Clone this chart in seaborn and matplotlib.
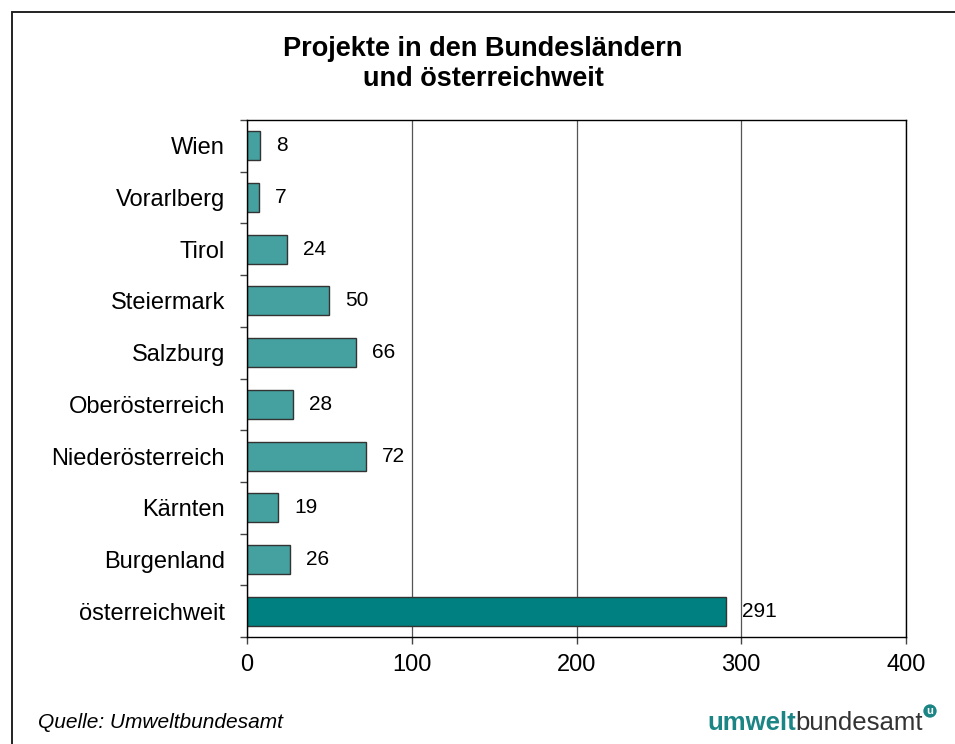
import numpy as np
import pandas as pd
import matplotlib
matplotlib.use("Agg")
import matplotlib.pyplot as plt
import seaborn as sns
from matplotlib.patches import Rectangle

# Daten (von oben nach unten)
regionen = ["Wien", "Vorarlberg", "Tirol", "Steiermark", "Salzburg",
            "Oberösterreich", "Niederösterreich", "Kärnten", "Burgenland",
            "österreichweit"]
projekte = [8, 7, 24, 50, 66, 28, 72, 19, 26, 291]
x_ticks = [0, 100, 200, 300, 400]

df = pd.DataFrame({"Region": regionen, "Projekte": projekte})
farben = ["#44a19f"] * 9 + ["#008080"]

sns.set_style("white")
plt.rcParams["font.family"] = ["Liberation Sans", "DejaVu Sans"]
plt.rcParams["text.color"] = "black"
plt.rcParams["xtick.labelcolor"] = "black"
plt.rcParams["ytick.labelcolor"] = "black"

fig = plt.figure(figsize=(9.55, 7.44), dpi=100)
ax = fig.add_axes([247 / 955, 1 - 637 / 744, (906 - 247) / 955, (637 - 120) / 744])

sns.barplot(data=df, x="Projekte", y="Region", hue="Region", palette=farben,
            orient="h", legend=False, width=0.56, edgecolor="#333333",
            linewidth=1, saturation=1, ax=ax)

for cont in ax.containers:
    ax.bar_label(cont, padding=11.5, fontsize=15, color="black")

ax.set_xlim(0, 400)
ax.set_ylim(9.5, -0.5)
ax.set_xticks(x_ticks)
ax.set_xticklabels([str(t) for t in x_ticks], fontsize=17)
ax.tick_params(axis="x", direction="out", length=5, width=1, color="#444444",
               pad=7, bottom=True, labelcolor="black")

# Striche zwischen den Kategorien, Beschriftung in der Mitte
ax.set_yticks(np.arange(-0.5, 10, 1))
ax.set_yticklabels([])
ax.set_yticks(np.arange(len(regionen)), minor=True)
ax.set_yticklabels(regionen, minor=True, fontsize=17)
ax.tick_params(axis="y", which="major", direction="out", length=5, width=1,
               color="#444444", left=True)
ax.tick_params(axis="y", which="minor", length=0, pad=16, labelcolor="black")

ax.set_xlabel("")
ax.set_ylabel("")
ax.xaxis.grid(True, color="#555555", linewidth=0.9)
ax.set_axisbelow(True)
for s in ax.spines.values():
    s.set_visible(True)
    s.set_color("black")
    s.set_linewidth(1)

fig.text(483 / 955, 1 - 64 / 744, "Projekte in den Bundesländern\nund österreichweit",
         ha="center", va="center", fontsize=19.5, fontweight="bold",
         linespacing=1.15, color="black")

fig.text(38 / 955, 1 - 722 / 744, "Quelle: Umweltbundesamt", ha="left",
         va="center", fontsize=15, style="italic", color="black")

# Logo
t1 = fig.text(707 / 955, 1 - 723 / 744, "umwelt", ha="left", va="center",
              fontsize=18.5, fontweight="bold", color="#1a8584")
fig.canvas.draw()
bb = t1.get_window_extent()
fig.text(bb.x1 / 955, 1 - 723 / 744, "bundesamt", ha="left", va="center",
         fontsize=18.5, color="#333333")
fig.text(930 / 955, 1 - 711 / 744, "u", ha="center", va="center", fontsize=8,
         fontweight="bold", color="white",
         bbox=dict(boxstyle="circle,pad=0.15", fc="#1a8584", ec="none"))

# Rahmen
fig.patches.append(Rectangle((12 / 955, -0.05), 1.1, 1 - 12 / 744 + 0.05,
                             transform=fig.transFigure, fill=False,
                             ec="#222222", lw=1.4, clip_on=False))

fig.savefig("out.png", dpi=100)
